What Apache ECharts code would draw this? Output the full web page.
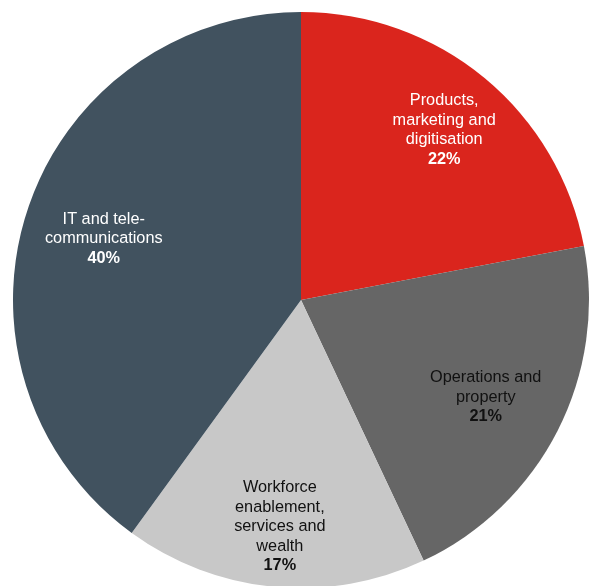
<!DOCTYPE html>
<html>
<head>
<meta charset="utf-8">
<script src="https://cdn.jsdelivr.net/npm/echarts@6/dist/echarts.min.js"></script>
<style>
  html, body { margin: 0; padding: 0; background: #fff; }
  #chart { width: 593px; height: 586px; }
</style>
</head>
<body>
<div id="chart"></div>
<script>
// data
const categorias = [
  "Products,\nmarketing and\ndigitisation",
  "Operations and\nproperty",
  "Workforce\nenablement,\nservices and\nwealth",
  "IT and tele-\ncommunications"
];
const porcentajes = [22, 21, 17, 40];

// styles
const colores = ["#DA251D", "#666666", "#C8C8C8", "#41525F"];
const coloresTexto = ["#ffffff", "#111111", "#111111", "#ffffff"];
const radioEtiqueta = [0.78, 0.72, 0.78, 0.72];

const centroX = 301;
const centroY = 300;
const radio = 288;
const bajarTexto = 3;

const dom = document.getElementById("chart");
const myChart = echarts.init(dom, null, { renderer: "canvas" });

const datos = categorias.map((nombre, i) => ({
  name: nombre,
  value: porcentajes[i],
  itemStyle: { color: colores[i] },
  label: {
    color: coloresTexto[i],
    rich: { b: { fontWeight: "bold", color: coloresTexto[i], fontSize: 16.3, lineHeight: 19.5 } }
  }
}));

const option = {
  animation: false,
  series: [
    {
      type: "pie",
      center: [centroX, centroY],
      radius: [0, radio],
      startAngle: 90,
      clockwise: true,
      silent: true,
      data: datos,
      itemStyle: { borderWidth: 0 },
      label: {
        show: true,
        position: "inside",
        fontFamily: "Liberation Sans, Arial, sans-serif",
        fontSize: 16.3,
        lineHeight: 19.5,
        align: "center",
        formatter: function (p) {
          return p.name + "\n{b|" + p.value + "%}";
        }
      },
      labelLine: { show: false },
      labelLayout: function (p) {
        const r = p.labelRect;
        const lx = r.x + r.width / 2;
        const ly = r.y + r.height / 2;
        const vx = lx - centroX;
        const vy = ly - centroY;
        const len = Math.sqrt(vx * vx + vy * vy) || 1;
        const objetivo = radioEtiqueta[p.dataIndex] * radio;
        return {
          dx: (vx / len) * objetivo - vx,
          dy: (vy / len) * objetivo - vy + bajarTexto
        };
      }
    }
  ]
};

myChart.setOption(option);
</script>
</body>
</html>
